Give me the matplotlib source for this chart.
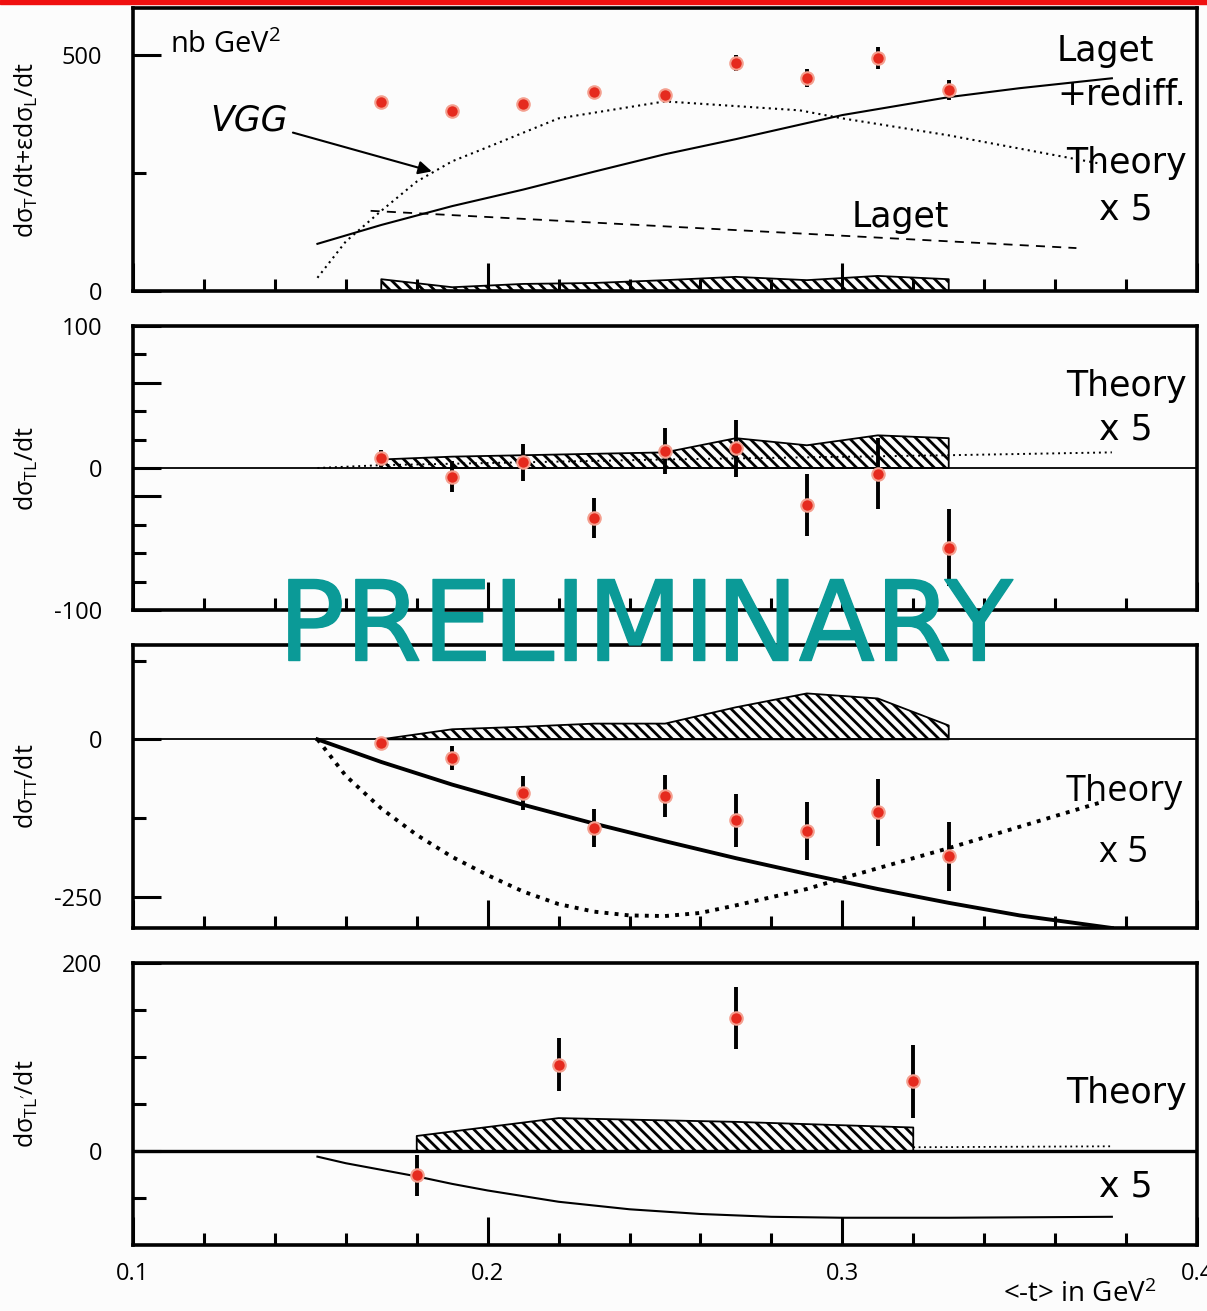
import matplotlib
matplotlib.use("Agg")
import matplotlib.pyplot as plt
from matplotlib.patches import Rectangle
import matplotlib.patheffects as pe

# ---- data ----
t_pts = [0.17, 0.19, 0.21, 0.23, 0.25, 0.27, 0.29, 0.31, 0.33]

# panel 1: dsigma_T/dt + eps dsigma_L/dt
unpol = [400, 381, 396, 422, 415, 483, 451, 494, 426]
unpol_err = [8, 8, 8, 8, 8, 17, 19, 23, 22]
unpol_sys = [25, 8, 15, 17, 23, 30, 23, 32, 25]
laget_rediff_t = [0.152, 0.17, 0.19, 0.21, 0.23, 0.25, 0.27, 0.30, 0.33, 0.35, 0.376]
laget_rediff = [100, 140, 180, 215, 253, 290, 322, 373, 411, 430, 451]
vgg1_t = [0.152, 0.16, 0.17, 0.18, 0.19, 0.20, 0.22, 0.25, 0.288, 0.30, 0.33, 0.372]
vgg1 = [28, 105, 170, 232, 275, 305, 366, 402, 383, 366, 330, 271]
laget_t = [0.167, 0.366]
laget = [170, 91]

# panel 2: dsigma_TL/dt
tl = [7, -6, 4, -35, 12, 14, -26, -4, -56]
tl_err = [6, 11, 13, 14, 16, 20, 22, 25, 27]
tl_sys = [6, 8, 9, 10, 11, 21, 16, 23, 21]
tl_th_t = [0.152, 0.17, 0.25, 0.33, 0.376]
tl_th = [0, 2, 6, 9, 11]

# panel 3: dsigma_TT/dt
tt = [-6, -30, -86, -141, -90, -129, -146, -116, -186]
tt_err = [5, 19, 27, 30, 34, 42, 46, 53, 55]
tt_sys = [0, 16, 20, 25, 25, 51, 73, 65, 22]
tt_solid_t = [0.152, 0.17, 0.19, 0.21, 0.23, 0.25, 0.27, 0.29, 0.31, 0.33, 0.35, 0.376]
tt_solid = [0, -36, -72, -104, -134, -162, -189, -214, -238, -260, -280, -300]
tt_dot_t = [0.152, 0.16, 0.17, 0.18, 0.19, 0.20, 0.21, 0.22, 0.23, 0.24, 0.25,
            0.26, 0.27, 0.28, 0.29, 0.30, 0.31, 0.32, 0.33, 0.35, 0.373]
tt_dot = [0, -58, -110, -152, -187, -216, -242, -262, -274, -280, -281,
          -276, -264, -251, -238, -221, -205, -189, -173, -139, -100]

# panel 4: dsigma_TL'/dt
t_pts4 = [0.18, 0.22, 0.27, 0.32]
tlp = [-26, 92, 141, 74]
tlp_err = [22, 28, 33, 39]
tlp_sys = [16, 35, 31, 25]
tlp_th_t = [0.152, 0.16, 0.17, 0.18, 0.19, 0.20, 0.22, 0.24, 0.26, 0.28, 0.30, 0.33, 0.376]
tlp_th = [-6, -13, -20, -27, -35, -42, -54, -62, -67, -70, -71, -71, -70]
tlp_dot_t = [0.32, 0.376]
tlp_dot = [4, 5]

W, H = 1207, 1311
BG = "#fcfcfc"
COMIC = ["DejaVu Sans"]
SANS = ["Open Sans", "DejaVu Sans"]

plt.rcParams["font.family"] = SANS
plt.rcParams["mathtext.default"] = "regular"
plt.rcParams["hatch.linewidth"] = 2.0

fig = plt.figure(figsize=(W / 100, H / 100), dpi=100, facecolor=BG)


def frac_axes(top, bottom):
    left, right = 133, 1197
    return fig.add_axes([left / W, 1 - bottom / H, (right - left) / W, (bottom - top) / H],
                        facecolor=BG)


def style(ax, ylim, major, minor, labels, ylabel, last=False):
    ax.set_xlim(0.1, 0.4)
    ax.set_ylim(*ylim)
    for s in ax.spines.values():
        s.set_linewidth(2.6)
    ax.set_xticks([0.1, 0.2, 0.3, 0.4])
    ax.set_xticks([0.1 + 0.02 * i for i in range(16)], minor=True)
    ax.set_yticks(major, labels=labels)
    ax.set_yticks(minor, minor=True)
    ax.tick_params(which="both", direction="in", width=2.2, top=False, right=False,
                   labelsize=17)
    ax.tick_params(which="major", length=20)
    ax.tick_params(which="minor", length=9)
    ax.tick_params(axis="y", pad=22)
    ax.tick_params(axis="x", pad=12, labelbottom=last)
    ax.set_ylabel(ylabel, fontsize=18)
    ax.yaxis.set_label_coords(-0.087, 0.5)


def data_points(ax, t, y, err):
    ax.errorbar(t, y, yerr=err, fmt="none", ecolor="black", elinewidth=2.8, zorder=5)
    ax.plot(t, y, "o", color="#e52a1e", markersize=9, markeredgecolor="#f4a090",
            markeredgewidth=1.5, zorder=6)


def sys_band(ax, t, h):
    ax.fill_between(t, 0, h, facecolor="none", edgecolor="black", hatch="\\\\\\",
                    linewidth=1.3, zorder=3)


# ---- panel 1 ----
ax1 = frac_axes(8, 291)
style(ax1, (0, 600), [0, 500], [250], ["0", "500"],
      r"d$\sigma_T$/dt+$\epsilon$d$\sigma_L$/dt")
sys_band(ax1, t_pts, unpol_sys)
ax1.plot(laget_rediff_t, laget_rediff, color="black", lw=1.5)
ax1.plot(vgg1_t, vgg1, color="black", lw=1.5, ls=(0, (1, 2)))
ax1.plot(laget_t, laget, color="black", lw=1.3, ls=(0, (5, 4)))
data_points(ax1, t_pts, unpol, unpol_err)
ax1.text(0.1104, 521, r"nb GeV$^2$", fontsize=21, va="center", family=SANS)
ax1.annotate("VGG", xy=(0.185, 252), xytext=(0.1217, 362), fontsize=25, style="italic",
             family=COMIC, va="center",
             arrowprops=dict(arrowstyle="-|>", color="black", lw=1.5, mutation_scale=20))
ax1.text(0.3605, 509, "Laget", fontsize=25, va="center", family=COMIC)
ax1.text(0.3605, 417, "+rediff.", fontsize=25, va="center", family=COMIC)
ax1.text(0.363, 272, "Theory", fontsize=25, va="center", family=COMIC)
ax1.text(0.3724, 172, "x 5", fontsize=25, va="center", family=COMIC)
ax1.text(0.3025, 157, "Laget", fontsize=25, va="center", family=COMIC)

# ---- panel 2 ----
ax2 = frac_axes(326, 610)
style(ax2, (-100, 100), [-100, -20, 0, 60, 100], [-80, -60, -40, 20, 40, 80],
      ["-100", "", "0", "", "100"], r"d$\sigma_{TL}$/dt")
ax2.axhline(0, color="black", lw=1.3, zorder=2)
sys_band(ax2, t_pts, tl_sys)
ax2.plot(tl_th_t, tl_th, color="black", lw=1.4, ls=(0, (1, 2)))
data_points(ax2, t_pts, tl, tl_err)
ax2.text(0.363, 58, "Theory", fontsize=25, va="center", family=COMIC)
ax2.text(0.3724, 27, "x 5", fontsize=25, va="center", family=COMIC)

# ---- panel 3 ----
ax3 = frac_axes(645, 928)
style(ax3, (-300, 150), [-250, 0], [-125, 125], ["-250", "0"], r"d$\sigma_{TT}$/dt")
ax3.axhline(0, color="black", lw=1.3, zorder=2)
sys_band(ax3, t_pts, tt_sys)
ax3.plot(tt_solid_t, tt_solid, color="black", lw=2.8)
ax3.plot(tt_dot_t, tt_dot, color="black", lw=2.8, ls=(0, (1, 1.6)))
data_points(ax3, t_pts, tt, tt_err)
ax3.text(0.363, -84, "Theory", fontsize=26, va="center", family=SANS)
ax3.text(0.3724, -181, "x 5", fontsize=26, va="center", family=SANS)

# ---- panel 4 ----
ax4 = frac_axes(963, 1245)
style(ax4, (-100, 200), [0, 200], [-50, 50, 100, 150], ["0", "200"],
      r"d$\sigma_{TL'}$/dt", last=True)
ax4.set_xticklabels(["0.1", "0.2", "0.3", "0.4"])
ax4.axhline(0, color="black", lw=2.4, zorder=2)
sys_band(ax4, t_pts4, tlp_sys)
ax4.plot(tlp_th_t, tlp_th, color="black", lw=1.5)
ax4.plot(tlp_dot_t, tlp_dot, color="black", lw=1.3, ls=(0, (1, 2)))
data_points(ax4, t_pts4, tlp, tlp_err)
ax4.text(0.363, 62, "Theory", fontsize=25, va="center", family=COMIC)
ax4.text(0.3724, -38, "x 5", fontsize=25, va="center", family=COMIC)

fig.text(1003 / W, 1 - 1295 / H, r"<-t> in GeV$^2$", fontsize=20, ha="left", va="center",
         family=SANS)

# red strip along the top edge and the watermark
fig.add_artist(Rectangle((0, 1 - 4 / H), 1, 4 / H, transform=fig.transFigure,
                         color="#f01010", zorder=10))
fig.text(645 / W, 1 - 630 / H, "PRELIMINARY", fontsize=80, color="#0b9a97",
         ha="center", va="center", family=COMIC, zorder=20,
         path_effects=[pe.withStroke(linewidth=1, foreground="#0b9a97")])

fig.savefig("out.png", dpi=100, facecolor=BG)
